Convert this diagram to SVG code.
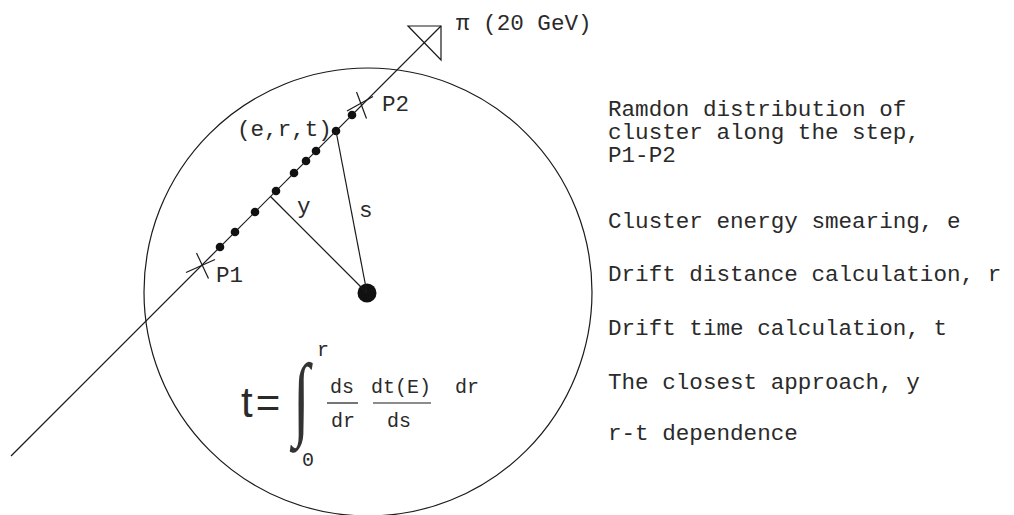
<svg xmlns="http://www.w3.org/2000/svg" width="1014" height="515" viewBox="0 0 1014 515">
<style>
.ln{stroke:#1a1a1a;stroke-width:1.2;fill:none}
.dot{fill:#111}
.mono{font-family:"Liberation Mono","DejaVu Sans Mono",monospace;fill:#2a2a2a;font-size:22.6px}
.small{font-family:"Liberation Mono","DejaVu Sans Mono",monospace;fill:#2a2a2a;font-size:20px}
.sans{font-family:"Liberation Sans","DejaVu Sans",sans-serif;fill:#2a2a2a}
</style>
<rect width="1014" height="515" fill="#fff"/>
<g id="detector">
<circle class="ln" cx="368" cy="292" r="224"/>
</g>
<g id="wire">
<circle class="dot" cx="367" cy="293" r="9.5"/>
</g>
<g id="track">
<line class="ln" x1="11" y1="456" x2="441" y2="26"/>
<polygon class="ln" points="408,26 441,26 441,60"/>
<text class="mono" x="456" y="30">π (20 GeV)</text>
</g>
<g id="p1">
<line class="ln" x1="186" y1="272.5" x2="215" y2="259.5"/>
<line class="ln" x1="196.5" y1="253" x2="208.5" y2="278.5"/>
<text class="mono" x="216" y="282">P1</text>
</g>
<g id="p2">
<line class="ln" x1="347" y1="111" x2="373" y2="96.5"/>
<line class="ln" x1="356.5" y1="92" x2="366.5" y2="118.5"/>
<text class="mono" x="382" y="111">P2</text>
</g>
<g id="clusters">
<circle class="dot" cx="220" cy="247" r="4.3"/>
<circle class="dot" cx="235" cy="232" r="4.3"/>
<circle class="dot" cx="255" cy="212" r="4.3"/>
<circle class="dot" cx="276" cy="191" r="4.3"/>
<circle class="dot" cx="294" cy="173" r="4.3"/>
<circle class="dot" cx="306" cy="161" r="4.3"/>
<circle class="dot" cx="316" cy="151" r="4.3"/>
<circle class="dot" cx="336" cy="131" r="4.3"/>
<circle class="dot" cx="352" cy="115" r="4.3"/>
<text class="mono" x="237" y="136">(e,r,t)</text>
</g>
<g id="connectors">
<line class="ln" x1="270.5" y1="196.5" x2="367" y2="293"/>
<line class="ln" x1="336" y1="131" x2="367" y2="293"/>
</g>
<g id="distances">
<text class="mono" x="297" y="213">y</text>
<text class="mono" x="359" y="217">s</text>
</g>
<g id="formula">
<text class="sans" x="241" y="417" font-size="42" letter-spacing="3">t=</text>
<text x="0" y="0" font-family="Liberation Serif,serif" font-size="64" fill="#333" transform="translate(293 428) scale(0.95 1.45)">∫</text>
<text class="small" x="317" y="356">r</text>
<text class="small" x="302" y="466">0</text>
<text class="small" x="330" y="393">ds</text>
<line class="ln" x1="327" y1="403" x2="358" y2="403"/>
<text class="small" x="331" y="427">dr</text>
<text class="small" x="371" y="393">dt(E)</text>
<line class="ln" x1="373" y1="403" x2="431" y2="403"/>
<text class="small" x="387" y="427">ds</text>
<text class="small" x="455" y="393">dr</text>
</g>
<g id="notes">
<text class="mono" x="608" y="116">Ramdon distribution of</text>
<text class="mono" x="608" y="139">cluster along the step,</text>
<text class="mono" x="608" y="162">P1-P2</text>
<text class="mono" x="608" y="228">Cluster energy smearing, e</text>
<text class="mono" x="608" y="281">Drift distance calculation, r</text>
<text class="mono" x="608" y="335">Drift time calculation, t</text>
<text class="mono" x="608" y="389">The closest approach, y</text>
<text class="mono" x="608" y="440">r-t dependence</text>
</g>
</svg>
